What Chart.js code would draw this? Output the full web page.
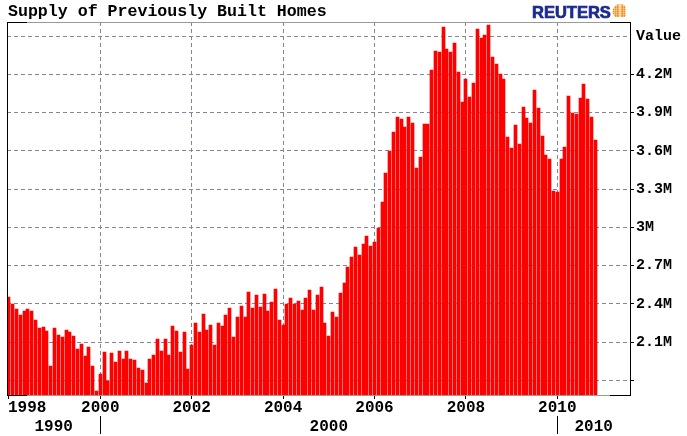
<!DOCTYPE html>
<html>
<head>
<meta charset="utf-8">
<script src="https://cdn.jsdelivr.net/npm/chart.js@4"></script>
<style>
  html, body { margin: 0; padding: 0; background: #ffffff; }
  #wrap { position: relative; width: 687px; height: 436px; }
</style>
</head>
<body>
<div id="wrap"><canvas id="c" width="687" height="436"></canvas></div>
<script>
// ---------------- data ----------------
const chartTitle = 'Supply of Previously Built Homes';
const brandName = 'REUTERS';
const startYear = 1998;            // first bar = January 1998, one bar per month
const supplyValues = [
  2.451, 2.396, 2.361, 2.310, 2.341, 2.361, 2.341, 2.276, 2.208, 2.215, 2.184, 1.914,
  2.212, 2.153, 2.137, 2.192, 2.181, 2.150, 2.043, 2.082, 1.993, 2.063, 1.914, 1.719,
  1.852, 2.020, 1.797, 2.017, 1.941, 2.032, 1.965, 2.027, 1.965, 1.957, 1.894, 1.879,
  1.781, 1.970, 2.001, 2.126, 2.027, 2.122, 2.001, 2.223, 2.184, 2.020, 2.181, 1.891,
  2.079, 2.252, 2.176, 2.322, 2.192, 2.236, 2.079, 2.247, 2.228, 2.310, 2.369, 2.140,
  2.294, 2.385, 2.299, 2.495, 2.369, 2.467, 2.375, 2.480, 2.346, 2.414, 2.518, 2.276,
  2.234, 2.396, 2.448, 2.396, 2.424, 2.353, 2.448, 2.508, 2.353, 2.472, 2.534, 2.252,
  2.150, 2.338, 2.299, 2.482, 2.561, 2.686, 2.765, 2.848, 2.780, 2.872, 2.930, 2.851,
  2.887, 2.992, 3.201, 3.423, 3.596, 3.745, 3.867, 3.849, 3.789, 3.867, 3.816, 3.463,
  3.551, 3.813, 3.813, 4.231, 4.385, 4.377, 4.569, 4.396, 4.377, 4.443, 4.220, 3.981,
  4.165, 4.024, 4.129, 4.558, 4.487, 4.506, 4.585, 4.338, 4.279, 4.205, 4.165, 3.705,
  3.620, 3.805, 3.656, 3.946, 3.859, 3.821, 4.075, 3.932, 3.718, 3.569, 3.533, 3.287,
  3.277, 3.538, 3.630, 4.032, 3.899, 3.891, 4.016, 4.124, 4.006, 3.865, 3.687
];
const yearTicks = [1998, 2000, 2002, 2004, 2006, 2008, 2010];
const yearTickLabels = ['1998', '2000', '2002', '2004', '2006', '2008', '2010'];
const yTickValues = [1.8, 2.1, 2.4, 2.7, 3.0, 3.3, 3.6, 3.9, 4.2, 4.5];
const yTickLabels = ['', '2.1M', '2.4M', '2.7M', '3M', '3.3M', '3.6M', '3.9M', '4.2M', 'Value'];
const decadeLabels = ['1990', '2000', '2010'];
const decadeBreaks = [2000, 2010];

// ---------------- styling / layout ----------------
const X_MIN = 1997.9584, X_MAX = 2011.5908;
const Y_MIN = 1.6847, Y_MAX = 4.6102;
const MONO = '"Liberation Mono", "Courier New", monospace';
const GRID = '#85859a';

const points = supplyValues.map((v, i) => ({ x: startYear + i / 12, y: v }));

// snap bars to whole pixels so the thin white gaps stay crisp
const snapPlugin = {
  id: 'snap',
  afterDatasetsUpdate(chart) {
    chart.getDatasetMeta(0).data.forEach(el => {
      el.x = Math.floor(el.x) + 0.5;
      el.y = Math.round(el.y);
    });
  }
};

const decorPlugin = {
  id: 'decor',
  afterDraw(chart) {
    const { ctx, chartArea: a, scales } = chart;
    const xs = scales.x;
    ctx.save();
    // frame
    ctx.fillStyle = '#000';
    ctx.fillRect(a.left, a.top, 1, a.bottom - a.top + 1);
    ctx.fillRect(a.right, a.top, 1, a.bottom - a.top + 1);
    [a.top, a.bottom].forEach(yy => {
      ctx.fillStyle = '#000';
      ctx.fillRect(a.left, yy, a.right - a.left + 1, 1);
      ctx.fillStyle = '#9a9a9a';
      ctx.fillRect(a.left + 20, yy, (a.right - 20) - (a.left + 20), 1);
    });

    // title
    ctx.fillStyle = '#000';
    ctx.font = 'bold 16.6px ' + MONO;
    ctx.textAlign = 'left';
    ctx.textBaseline = 'alphabetic';
    ctx.fillText(chartTitle, 8, 16);

    // brand
    ctx.fillStyle = '#1c2a8e';
    ctx.strokeStyle = '#1c2a8e';
    ctx.lineWidth = 0.7;
    ctx.font = 'bold 16.5px "Liberation Sans", Arial, sans-serif';
    ctx.fillText(brandName, 532, 18);
    ctx.strokeText(brandName, 532, 18);
    // globe icon
    const gx = 620, gy = 11.5, r = 7.5;
    ctx.beginPath(); ctx.arc(gx, gy, r, 0, Math.PI * 2); ctx.closePath();
    ctx.save(); ctx.clip();
    ctx.fillStyle = '#ffffff'; ctx.fillRect(gx - r, gy - r, 2 * r, 2 * r);
    ctx.fillStyle = '#f08a10';
    for (let dy = -6.6; dy <= 6.6; dy += 2.2) {
      for (let dx = -6.6; dx <= 6.6; dx += 2.2) {
        const rr = Math.sqrt(dx * dx + dy * dy);
        const s = 2.2 - rr * 0.06;
        ctx.fillRect(gx + dx - s / 2, gy + dy - s / 2, s, s);
      }
    }
    ctx.fillStyle = '#ffffff';
    ctx.fillRect(gx - 0.6, gy - r, 1.2, 2 * r);
    ctx.restore();

    // x tick labels (first row)
    ctx.fillStyle = '#000';
    ctx.font = 'bold 16px ' + MONO;
    yearTicks.forEach((yr, i) => {
      const px = xs.getPixelForValue(yr);
      const t = yearTickLabels[i];
      const w = ctx.measureText(t).width;
      if (px - w / 2 < a.left) { ctx.textAlign = 'left'; ctx.fillText(t, a.left + 1, 411.5); }
      else { ctx.textAlign = 'center'; ctx.fillText(t, px, 411.5); }
    });

    // decade row
    const bounds = [a.left, ...decadeBreaks.map(v => xs.getPixelForValue(v)), a.right];
    ctx.textAlign = 'center';
    decadeLabels.forEach((t, i) => {
      ctx.fillText(t, (bounds[i] + bounds[i + 1]) / 2, 430.5);
    });
    decadeBreaks.forEach(v => {
      const px = Math.round(xs.getPixelForValue(v));
      ctx.fillRect(px, 416, 1, 18);
    });
    ctx.restore();
  }
};

new Chart(document.getElementById('c').getContext('2d'), {
  type: 'bar',
  data: {
    datasets: [{
      data: points,
      backgroundColor: '#ff0000',
      borderWidth: 0,
      barThickness: 3
    }]
  },
  options: {
    responsive: false,
    animation: false,
    devicePixelRatio: 1,
    layout: { padding: { left: 7, top: 22, right: 0, bottom: 0 } },
    plugins: { legend: { display: false }, tooltip: { enabled: false }, title: { display: false } },
    scales: {
      x: {
        type: 'linear',
        min: X_MIN, max: X_MAX,
        offset: false,
        afterBuildTicks: s => { s.ticks = yearTicks.map(v => ({ value: v })); },
        afterFit: s => { s.height = 41; },
        ticks: { display: false },
        grid: {
          offset: false,
          color: c => (c.tick && c.tick.value === 1998) ? 'rgba(0,0,0,0)' : GRID,
          lineWidth: 1,
          drawTicks: true,
          tickLength: 4,
          tickColor: '#000'
        },
        border: { display: false, dash: [4, 3] }
      },
      y: {
        type: 'linear',
        position: 'right',
        min: Y_MIN, max: Y_MAX,
        afterBuildTicks: s => { s.ticks = yTickValues.map(v => ({ value: v })); },
        afterFit: s => { s.width = 57; },
        ticks: {
          callback: (v, i) => yTickLabels[i],
          font: { family: MONO, size: 15, weight: 'bold' },
          color: '#000',
          padding: 2
        },
        grid: {
          color: GRID,
          lineWidth: 1,
          tickLength: 4,
          tickColor: c => (c.tick && c.tick.value === 4.5) ? 'rgba(0,0,0,0)' : '#000'
        },
        border: { display: false, dash: [4, 3] }
      }
    }
  },
  plugins: [snapPlugin, decorPlugin]
});
</script>
</body>
</html>
